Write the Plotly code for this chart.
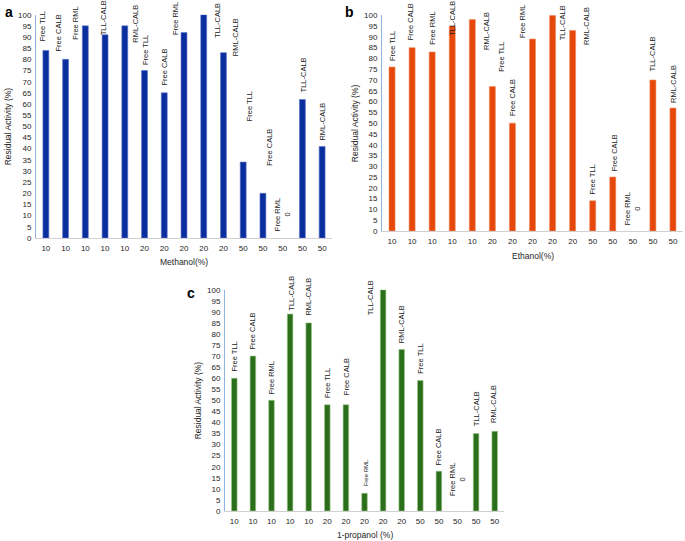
import plotly.graph_objects as go

# ---------------- data ----------------
conc = ["10", "10", "10", "10", "10", "20", "20", "20", "20", "20", "50", "50", "50", "50", "50"]
enzymes = ["Free TLL", "Free CALB", "Free RML", "TLL-CALB", "RML-CALB"] * 3

methanol = [84, 80, 95, 91, 95, 75, 65, 92, 100, 83, 34, 20, 0, 62, 41]
ethanol = [76, 85, 83, 95, 98, 67, 50, 89, 100, 93, 14, 25, 0, 70, 57]
propanol = [60, 70, 50, 89, 85, 48, 48, 8, 100, 73, 59, 18, 0, 35, 36]

y_ticks = list(range(0, 101, 5))

# ---------------- layout helpers (pixel geometry) ----------------
W, H = 685, 541
FONT = "Liberation Sans Narrow, Arial Narrow, Liberation Sans, sans-serif"


def px_x(p):
    return p / W


def px_y(p):
    return (H - p) / H


panels = [
    dict(vals=methanol, color="#0b2e9e", line="#5a74c8", xdom=(36, 332), ydom=(238, 14.7),
         xtitle="Methanol(%)", xt_y=262, letter="a", let_xy=(3, 2), ytitle_x=8,
         # label offsets (dx, gap) in px relative to bar top
         offs=[(-3, 7), (-7, 6), (-10, -16), (-2, -3), (11, -19), (1, 3), (0, 5), (-9, -5),
               (13, -25), (12, -5), (6, 39), (7, 26), (0, 5), (1, 5), (0, 4)]),
    dict(vals=ethanol, color="#e5480a", line="#f08a5c", xdom=(382, 683), ydom=(231, 15.3),
         xtitle="Ethanol(%)", xt_y=256, letter="b", let_xy=(343, 2), ytitle_x=355,
         offs=[(0, 4), (-2, 5), (0, 5), (0, -12), (14, -32), (9, 13), (0, 5), (-10, -1),
               (10, -27), (14, -17), (0, 4), (2, 4), (0, 4), (0, 7), (0, 3)]),
    dict(vals=propanol, color="#2b6e1c", line="#9cc98a", xdom=(225, 504), ydom=(511, 289.7),
         xtitle="1-propanol (%)", xt_y=535, letter="c", let_xy=(185, 283), ytitle_x=198,
         offs=[(0, 5), (0, 5), (0, 4), (1, 1), (0, 5), (0, 5), (0, 8), (1, 5),
               (-13, -28), (0, 4), (0, 5), (0, 4), (0, 13), (0, 5), (-1, 6)]),
]

fig = go.Figure()
annotations = []

for k, p in enumerate(panels):
    n = "" if k == 0 else str(k + 1)
    xa, ya = "x" + n, "y" + n
    xs = list(range(len(p["vals"])))
    fig.add_trace(go.Bar(
        x=xs, y=p["vals"], width=0.3, xaxis=xa, yaxis=ya,
        marker=dict(color=p["color"],
                    line=dict(color=p["line"], width=[0 if v == 0 else 0.6 for v in p["vals"]])),
        showlegend=False, hoverinfo="skip",
    ))
    fig.layout["xaxis" + n] = dict(
        domain=[px_x(p["xdom"][0]), px_x(p["xdom"][1])],
        anchor=ya, range=[-0.5, len(xs) - 0.5],
        tickvals=xs, ticktext=conc, ticks="", showgrid=False, zeroline=False,
        showline=True, linecolor="#d0d0d0", linewidth=1,
        tickfont=dict(family=FONT, size=8, color="#262626"), ticklabelstandoff=2,
        fixedrange=True, automargin=False,
    )
    fig.layout["yaxis" + n] = dict(
        domain=[px_y(p["ydom"][0]), px_y(p["ydom"][1])],
        anchor=xa, range=[0, 100], tickvals=y_ticks, ticks="",
        showgrid=False, zeroline=False, showline=True, linecolor="#8fb4e3", linewidth=1,
        tickfont=dict(family=FONT, size=8, color="#262626"), ticklabelstandoff=2,
        fixedrange=True, automargin=False,
    )
    # data labels
    for i, (v, name) in enumerate(zip(p["vals"], enzymes)):
        dx, gap = p["offs"][i]
        txt = name if v != 0 else name + "<br>0"
        size = 7.5
        if k == 2 and i == 7:
            size = 6
        annotations.append(dict(
            x=i, y=v, xref=xa, yref=ya, text=txt, showarrow=False, textangle=-90,
            xanchor="center", yanchor="bottom", xshift=dx, yshift=gap,
            font=dict(family=FONT, size=size, color="#1a1a1a"),
        ))
    # axis titles
    cx = (p["xdom"][0] + p["xdom"][1]) / 2
    annotations.append(dict(
        x=px_x(cx), y=px_y(p["xt_y"]), xref="paper", yref="paper", text=p["xtitle"],
        showarrow=False, xanchor="center", yanchor="middle",
        font=dict(family=FONT, size=8.5, color="#262626"),
    ))
    cy = (p["ydom"][0] + p["ydom"][1]) / 2
    annotations.append(dict(
        x=px_x(p["ytitle_x"]), y=px_y(cy), xref="paper", yref="paper",
        text="Residual Activity (%)", showarrow=False, textangle=-90,
        xanchor="center", yanchor="middle",
        font=dict(family=FONT, size=8.5, color="#262626"),
    ))
    # panel letter
    annotations.append(dict(
        x=px_x(p["let_xy"][0]), y=px_y(p["let_xy"][1]), xref="paper", yref="paper",
        text="<b>" + p["letter"] + "</b>", showarrow=False, xanchor="left", yanchor="top",
        font=dict(family="Liberation Sans, Arial, sans-serif", size=14, color="#000000"),
    ))

fig.update_layout(
    width=W, height=H, margin=dict(l=0, r=0, t=0, b=0, pad=0),
    paper_bgcolor="white", plot_bgcolor="white",
    annotations=annotations, bargap=0.7,
)

fig.write_html(
    "out.html",
    config={"displayModeBar": False},
    post_script="document.body.style.margin='0';document.body.style.padding='0';"
                "document.body.style.overflow='hidden';",
)
